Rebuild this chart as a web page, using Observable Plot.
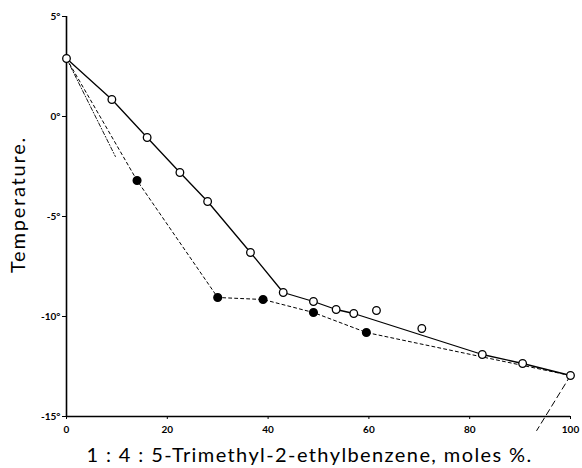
<!DOCTYPE html>
<html>
<head>
<meta charset="utf-8">
<script src="https://cdn.jsdelivr.net/npm/d3@7"></script>
<script src="https://cdn.jsdelivr.net/npm/@observablehq/plot@0.6"></script>
<style>
  html, body { margin: 0; padding: 0; background: #fff; }
  #chart svg { display: block; }
</style>
</head>
<body>
<div id="chart"></div>
<script>
// Open circles (solid curve)
const openX = [0, 9, 16, 22.5, 28, 36.5, 43, 49, 53.5, 57, 61.5, 70.5, 82.5, 90.5, 100];
const openY = [2.9, 0.85, -1.05, -2.8, -4.25, -6.8, -8.8, -9.25, -9.65, -9.85, -9.7, -10.6, -11.9, -12.35, -12.95];
// Solid line vertices
const solidX = [0, 9, 16, 22.5, 28, 36.5, 43, 49, 53.5, 57, 82.5, 90.5, 100];
const solidY = [2.9, 0.85, -1.05, -2.8, -4.25, -6.8, -8.8, -9.25, -9.65, -9.85, -11.9, -12.35, -12.95];
// Filled circles (dashed curve)
const filledX = [14, 30, 39, 49, 59.5];
const filledY = [-3.2, -9.05, -9.15, -9.8, -10.8];
// Dashed line vertices
const dashX = [0, 14, 30, 39, 49, 59.5, 100];
const dashY = [2.9, -3.2, -9.05, -9.15, -9.8, -10.8, -12.95];
// Dash-dot segment near origin
const dotDashX = [0, 9.7];
const dotDashY = [2.9, -2.0];
// Dashed segment at right end
const endDashX = [100, 93.3];
const endDashY = [-12.95, -15.7];
// Ticks and labels
const xTicks = [0, 20, 40, 60, 80, 100];
const yTicks = [5, 0, -5, -10, -15];
const xLabel = "1 : 4 : 5-Trimethyl-2-ethylbenzene, moles %.";
const yLabel = "Temperature.";

const pts = (xs, ys) => xs.map((x, i) => ({x, y: ys[i]}));

const chart = Plot.plot({
  width: 582,
  height: 468,
  marginLeft: 66,
  marginRight: 12,
  marginTop: 16,
  marginBottom: 52,
  style: {fontFamily: "Lato, sans-serif", background: "#fff", color: "#000"},
  x: {domain: [0, 100]},
  y: {domain: [-15, 5]},
  marks: [
    Plot.axisX({ticks: xTicks, tickSize: 3, tickPadding: 6, fontSize: 10, fontWeight: "bold", label: null}),
    Plot.axisY({ticks: yTicks, tickSize: 4, tickPadding: 2, fontSize: 10, fontWeight: "bold", label: null,
      tickFormat: d => (d < 0 ? "-" + Math.abs(d) : d) + "°"}),
    Plot.ruleX([0], {y1: -15, y2: 5, stroke: "#000", strokeWidth: 1.6}),
    Plot.ruleY([-15], {x1: 0, x2: 100, stroke: "#000", strokeWidth: 1.6}),
    Plot.line(pts(dotDashX, dotDashY), {x: "x", y: "y", stroke: "#000", strokeWidth: 0.9, strokeDasharray: "4,2,1,2"}),
    Plot.line(pts(dashX, dashY), {x: "x", y: "y", stroke: "#000", strokeWidth: 1, strokeDasharray: "3,3"}),
    Plot.line(pts(endDashX, endDashY), {x: "x", y: "y", stroke: "#000", strokeWidth: 1, strokeDasharray: "6,4"}),
    Plot.line(pts(solidX, solidY), {x: "x", y: "y", stroke: "#000", strokeWidth: 1.3}),
    Plot.dot(pts(filledX, filledY), {x: "x", y: "y", r: 3.8, fill: "#000", stroke: "#000"}),
    Plot.dot(pts(openX, openY), {x: "x", y: "y", r: 3.8, fill: "#fff", stroke: "#000", strokeWidth: 1.3}),
    Plot.text([xLabel], {frameAnchor: "bottom", text: d => d, dy: 45, fontSize: 20, dx: -9, fill: "#000"}),
    Plot.text([yLabel], {frameAnchor: "left", textAnchor: "middle", text: d => d, rotate: -90, dx: -48, dy: -12, fontSize: 20, fill: "#000"})
  ]
});
d3.select(chart).selectAll("text").each(function() {
  const t = this.textContent;
  if (t === xLabel) this.setAttribute("letter-spacing", "1.4");
  if (t === yLabel) this.setAttribute("letter-spacing", "1.8");
});
document.getElementById("chart").appendChild(chart);
</script>
</body>
</html>
